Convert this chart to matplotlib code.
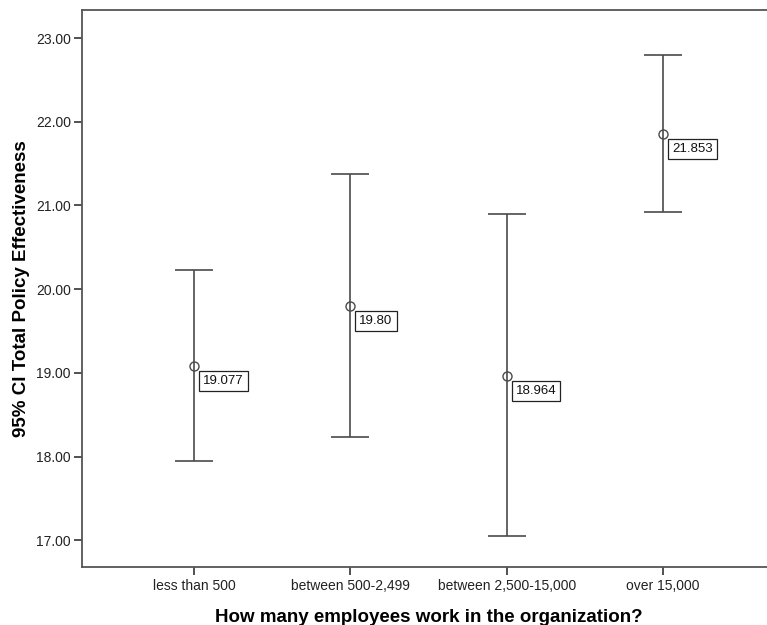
import matplotlib
matplotlib.use("Agg")
import matplotlib.pyplot as plt

plt.rcParams['font.family'] = ['Liberation Sans', 'DejaVu Sans']

categories = ["less than 500", "between 500-2,499", "between 2,500-15,000", "over 15,000"]
means = [19.077, 19.80, 18.964, 21.853]
mean_labels = ["19.077", "19.80", "18.964", "21.853"]
ci_lower = [17.948, 18.235, 17.048, 20.920]
ci_upper = [20.227, 21.375, 20.897, 22.797]
y_ticks = [17.0, 18.0, 19.0, 20.0, 21.0, 22.0, 23.0]

fig = plt.figure(figsize=(7.67, 6.25), dpi=100)
ax = fig.add_axes([82 / 767, 58 / 625, 693 / 767, 557 / 625])

line_col = "#4a4a4a"
x = list(range(len(categories)))
yerr = [[m - lo for m, lo in zip(means, ci_lower)],
        [hi - m for m, hi in zip(means, ci_upper)]]
ax.errorbar(x, means, yerr=yerr, fmt="none", ecolor=line_col, elinewidth=1.2,
            capsize=19 * 72 / 100, capthick=1.2)
ax.plot(x, means, linestyle="none", marker="o", markersize=6.5,
        markerfacecolor="none", markeredgecolor=line_col, markeredgewidth=1.0, zorder=3)

# value labels in small boxes, below and to the right of each mean
for xi, m, lab in zip(x, means, mean_labels):
    ax.annotate(lab, xy=(xi, m), xytext=(9, -9), textcoords="offset pixels",
                ha="left", va="top", fontsize=9.5, color="#111111",
                bbox=dict(boxstyle="square,pad=0.3", facecolor="white",
                          edgecolor="#222222", linewidth=0.9))

ax.set_xlim(-0.716, 3.716)
ax.set_ylim(16.68, 23.335)
ax.set_xticks(x)
ax.set_xticklabels(categories, fontsize=10, color="#222222")
ax.set_yticks(y_ticks)
ax.set_yticklabels([f"{v:.2f}" for v in y_ticks], fontsize=10, color="#222222")
ax.tick_params(direction="out", length=6, width=1.2, color="#333333", pad=2)
ax.tick_params(axis="x", pad=3)

for sp in ax.spines.values():
    sp.set_color("#555555")
    sp.set_linewidth(1.3)

ax.set_xlabel("How many employees work in the organization?", fontsize=13.5,
              fontweight="bold", labelpad=11)
ax.set_ylabel("95% CI Total Policy Effectiveness", fontsize=13.5,
              fontweight="bold", labelpad=4)

fig.savefig("out.png", dpi=100)
